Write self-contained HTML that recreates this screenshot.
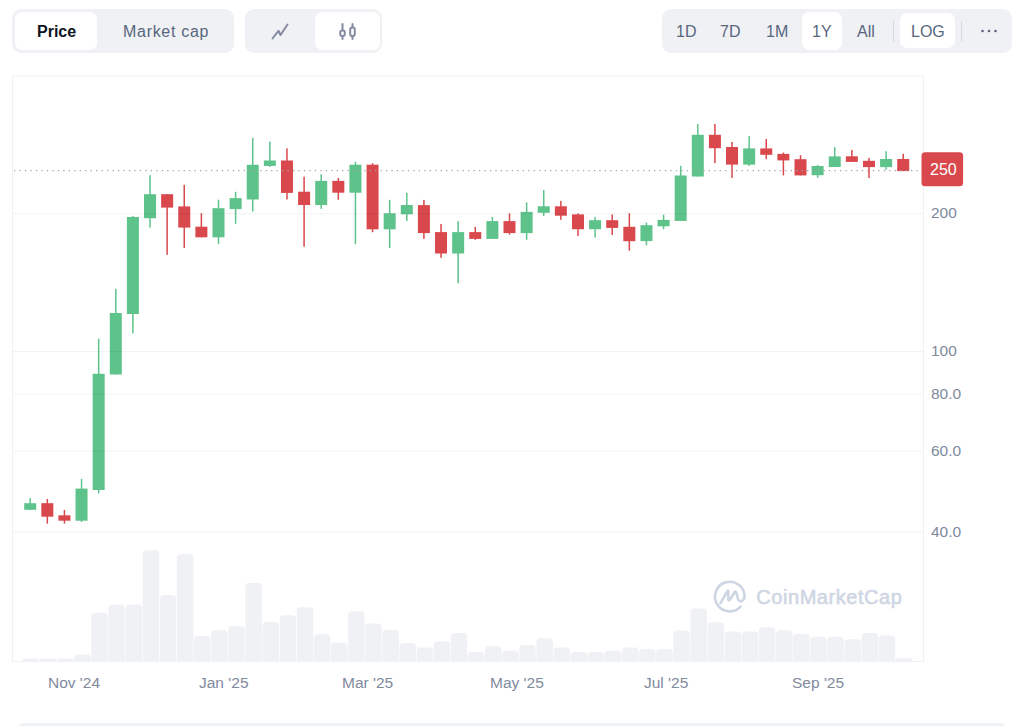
<!DOCTYPE html>
<html><head><meta charset="utf-8">
<style>
html,body{margin:0;padding:0;}
body{width:1024px;height:726px;overflow:hidden;background:#fff;position:relative;font-family:"Liberation Sans",sans-serif;}
.grp{position:absolute;top:9px;height:44px;background:#eff1f4;border-radius:9px;}
.btn{position:absolute;top:3px;height:38px;background:#fff;border-radius:7px;}
.t{position:absolute;font-size:16px;line-height:16px;color:#58667e;white-space:nowrap;}
.yl{position:absolute;left:931px;font-size:15.5px;line-height:15px;color:#808a9d;white-space:nowrap;}
.xl{position:absolute;top:675px;font-size:15.5px;line-height:15px;color:#808a9d;white-space:nowrap;}
.sep{position:absolute;top:21px;width:1px;height:21px;background:#d3d8e1;}
svg{position:absolute;left:0;top:0;}
</style></head><body>
<div class="grp" style="left:12px;width:222px;">
  <div class="btn" style="left:3px;width:82px;"></div>
</div>
<div class="t" style="left:37px;top:23.5px;color:#0d1421;font-weight:bold;">Price</div>
<div class="t" style="left:123px;top:23.5px;letter-spacing:0.7px;">Market cap</div>

<div class="grp" style="left:245px;width:137px;">
  <div class="btn" style="left:70px;width:65px;"></div>
</div>

<div class="grp" style="left:662px;width:350px;">
  <div class="btn" style="left:139.5px;width:40.5px;"></div>
  <div class="btn" style="left:238px;top:4px;height:35px;width:55px;"></div>
</div>
<div class="sep" style="left:893px;"></div>
<div class="sep" style="left:961px;"></div>
<div class="t" style="left:676px;top:23.5px;">1D</div>
<div class="t" style="left:720px;top:23.5px;">7D</div>
<div class="t" style="left:766px;top:23.5px;">1M</div>
<div class="t" style="left:812px;top:23.5px;">1Y</div>
<div class="t" style="left:857px;top:23.5px;">All</div>
<div class="t" style="left:911px;top:23.5px;">LOG</div>

<svg width="1024" height="726" viewBox="0 0 1024 726">
<!-- line icon -->
<path d="M272.5 38.5L278.5 30.8L280.5 35L287.5 24.5" fill="none" stroke="#858ca2" stroke-width="2" stroke-linecap="round" stroke-linejoin="round"/>
<!-- candle icon -->
<path d="M342.5 24v15M352.5 24v15" stroke="#858ca2" stroke-width="2" stroke-linecap="round"/>
<rect x="340.2" y="30.5" width="4.6" height="5.6" rx="2" fill="#fff" stroke="#858ca2" stroke-width="2"/>
<rect x="350.2" y="27.5" width="4.6" height="8.6" rx="2" fill="#fff" stroke="#858ca2" stroke-width="2"/>
<!-- more dots -->
<circle cx="982.5" cy="31" r="1.3" fill="#58667e"/><circle cx="989" cy="31" r="1.3" fill="#58667e"/><circle cx="995.5" cy="31" r="1.3" fill="#58667e"/>
<!-- chart frame -->
<rect x="12.5" y="76" width="911" height="585.5" fill="#fff" stroke="#eff2f5" stroke-width="1"/>
<path d="M22.85 661.5V660.05Q22.85 658.6 24.3 658.6H37.9Q39.35 658.6 39.35 660.05V661.5Z" fill="#eff1f4"/>
<path d="M39.97 661.5V660.05Q39.97 658.6 41.42 658.6H55.02Q56.47 658.6 56.47 660.05V661.5Z" fill="#eff1f4"/>
<path d="M57.09 661.5V660.05Q57.09 658.6 58.54 658.6H72.14Q73.59 658.6 73.59 660.05V661.5Z" fill="#eff1f4"/>
<path d="M74.2 661.5V658.05Q74.2 654.6 77.65 654.6H87.25Q90.7 654.6 90.7 658.05V661.5Z" fill="#eff1f4"/>
<path d="M91.32 661.5V616.7Q91.32 612.7 95.32 612.7H103.82Q107.82 612.7 107.82 616.7V661.5Z" fill="#eff1f4"/>
<path d="M108.44 661.5V608.5Q108.44 604.5 112.44 604.5H120.94Q124.94 604.5 124.94 608.5V661.5Z" fill="#eff1f4"/>
<path d="M125.56 661.5V608.5Q125.56 604.5 129.56 604.5H138.06Q142.06 604.5 142.06 608.5V661.5Z" fill="#eff1f4"/>
<path d="M142.68 661.5V554.2Q142.68 550.2 146.68 550.2H155.18Q159.18 550.2 159.18 554.2V661.5Z" fill="#eff1f4"/>
<path d="M159.79 661.5V599.3Q159.79 595.3 163.79 595.3H172.29Q176.29 595.3 176.29 599.3V661.5Z" fill="#eff1f4"/>
<path d="M176.91 661.5V558.3Q176.91 554.3 180.91 554.3H189.41Q193.41 554.3 193.41 558.3V661.5Z" fill="#eff1f4"/>
<path d="M194.03 661.5V639.7Q194.03 635.7 198.03 635.7H206.53Q210.53 635.7 210.53 639.7V661.5Z" fill="#eff1f4"/>
<path d="M211.15 661.5V634.3Q211.15 630.3 215.15 630.3H223.65Q227.65 630.3 227.65 634.3V661.5Z" fill="#eff1f4"/>
<path d="M228.27 661.5V630Q228.27 626 232.27 626H240.77Q244.77 626 244.77 630V661.5Z" fill="#eff1f4"/>
<path d="M245.38 661.5V587Q245.38 583 249.38 583H257.88Q261.88 583 261.88 587V661.5Z" fill="#eff1f4"/>
<path d="M262.5 661.5V626.1Q262.5 622.1 266.5 622.1H275Q279 622.1 279 626.1V661.5Z" fill="#eff1f4"/>
<path d="M279.62 661.5V619.3Q279.62 615.3 283.62 615.3H292.12Q296.12 615.3 296.12 619.3V661.5Z" fill="#eff1f4"/>
<path d="M296.74 661.5V611.3Q296.74 607.3 300.74 607.3H309.24Q313.24 607.3 313.24 611.3V661.5Z" fill="#eff1f4"/>
<path d="M313.86 661.5V638.2Q313.86 634.2 317.86 634.2H326.36Q330.36 634.2 330.36 638.2V661.5Z" fill="#eff1f4"/>
<path d="M330.97 661.5V646.4Q330.97 642.4 334.97 642.4H343.47Q347.47 642.4 347.47 646.4V661.5Z" fill="#eff1f4"/>
<path d="M348.09 661.5V615.2Q348.09 611.2 352.09 611.2H360.59Q364.59 611.2 364.59 615.2V661.5Z" fill="#eff1f4"/>
<path d="M365.21 661.5V627.5Q365.21 623.5 369.21 623.5H377.71Q381.71 623.5 381.71 627.5V661.5Z" fill="#eff1f4"/>
<path d="M382.33 661.5V634Q382.33 630 386.33 630H394.83Q398.83 630 398.83 634V661.5Z" fill="#eff1f4"/>
<path d="M399.45 661.5V647.3Q399.45 643.3 403.45 643.3H411.95Q415.95 643.3 415.95 647.3V661.5Z" fill="#eff1f4"/>
<path d="M416.56 661.5V651.6Q416.56 647.6 420.56 647.6H429.06Q433.06 647.6 433.06 651.6V661.5Z" fill="#eff1f4"/>
<path d="M433.68 661.5V645.2Q433.68 641.2 437.68 641.2H446.18Q450.18 641.2 450.18 645.2V661.5Z" fill="#eff1f4"/>
<path d="M450.8 661.5V637Q450.8 633 454.8 633H463.3Q467.3 633 467.3 637V661.5Z" fill="#eff1f4"/>
<path d="M467.92 661.5V656.1Q467.92 652.1 471.92 652.1H480.42Q484.42 652.1 484.42 656.1V661.5Z" fill="#eff1f4"/>
<path d="M485.04 661.5V650.2Q485.04 646.2 489.04 646.2H497.54Q501.54 646.2 501.54 650.2V661.5Z" fill="#eff1f4"/>
<path d="M502.15 661.5V654.5Q502.15 650.5 506.15 650.5H514.65Q518.65 650.5 518.65 654.5V661.5Z" fill="#eff1f4"/>
<path d="M519.27 661.5V649.1Q519.27 645.1 523.27 645.1H531.77Q535.77 645.1 535.77 649.1V661.5Z" fill="#eff1f4"/>
<path d="M536.39 661.5V642.2Q536.39 638.2 540.39 638.2H548.89Q552.89 638.2 552.89 642.2V661.5Z" fill="#eff1f4"/>
<path d="M553.51 661.5V651.6Q553.51 647.6 557.51 647.6H566.01Q570.01 647.6 570.01 651.6V661.5Z" fill="#eff1f4"/>
<path d="M570.63 661.5V656.1Q570.63 652.1 574.63 652.1H583.13Q587.13 652.1 587.13 656.1V661.5Z" fill="#eff1f4"/>
<path d="M587.74 661.5V656.1Q587.74 652.1 591.74 652.1H600.24Q604.24 652.1 604.24 656.1V661.5Z" fill="#eff1f4"/>
<path d="M604.86 661.5V654.5Q604.86 650.5 608.86 650.5H617.36Q621.36 650.5 621.36 654.5V661.5Z" fill="#eff1f4"/>
<path d="M621.98 661.5V651.6Q621.98 647.6 625.98 647.6H634.48Q638.48 647.6 638.48 651.6V661.5Z" fill="#eff1f4"/>
<path d="M639.1 661.5V653Q639.1 649 643.1 649H651.6Q655.6 649 655.6 653V661.5Z" fill="#eff1f4"/>
<path d="M656.22 661.5V653Q656.22 649 660.22 649H668.72Q672.72 649 672.72 653V661.5Z" fill="#eff1f4"/>
<path d="M673.33 661.5V634.4Q673.33 630.4 677.33 630.4H685.83Q689.83 630.4 689.83 634.4V661.5Z" fill="#eff1f4"/>
<path d="M690.45 661.5V612.6Q690.45 608.6 694.45 608.6H702.95Q706.95 608.6 706.95 612.6V661.5Z" fill="#eff1f4"/>
<path d="M707.57 661.5V626.2Q707.57 622.2 711.57 622.2H720.07Q724.07 622.2 724.07 626.2V661.5Z" fill="#eff1f4"/>
<path d="M724.69 661.5V635.4Q724.69 631.4 728.69 631.4H737.19Q741.19 631.4 741.19 635.4V661.5Z" fill="#eff1f4"/>
<path d="M741.81 661.5V635.4Q741.81 631.4 745.81 631.4H754.31Q758.31 631.4 758.31 635.4V661.5Z" fill="#eff1f4"/>
<path d="M758.92 661.5V631.2Q758.92 627.2 762.92 627.2H771.42Q775.42 627.2 775.42 631.2V661.5Z" fill="#eff1f4"/>
<path d="M776.04 661.5V634.2Q776.04 630.2 780.04 630.2H788.54Q792.54 630.2 792.54 634.2V661.5Z" fill="#eff1f4"/>
<path d="M793.16 661.5V638.1Q793.16 634.1 797.16 634.1H805.66Q809.66 634.1 809.66 638.1V661.5Z" fill="#eff1f4"/>
<path d="M810.28 661.5V640.8Q810.28 636.8 814.28 636.8H822.78Q826.78 636.8 826.78 640.8V661.5Z" fill="#eff1f4"/>
<path d="M827.4 661.5V640.8Q827.4 636.8 831.4 636.8H839.9Q843.9 636.8 843.9 640.8V661.5Z" fill="#eff1f4"/>
<path d="M844.51 661.5V643.3Q844.51 639.3 848.51 639.3H857.01Q861.01 639.3 861.01 643.3V661.5Z" fill="#eff1f4"/>
<path d="M861.63 661.5V636.9Q861.63 632.9 865.63 632.9H874.13Q878.13 632.9 878.13 636.9V661.5Z" fill="#eff1f4"/>
<path d="M878.75 661.5V639.4Q878.75 635.4 882.75 635.4H891.25Q895.25 635.4 895.25 639.4V661.5Z" fill="#eff1f4"/>
<path d="M895.87 661.5V659.9Q895.87 658.3 897.47 658.3H910.77Q912.37 658.3 912.37 659.9V661.5Z" fill="#eff1f4"/>
<g fill="none" stroke="#cfd6e3" stroke-width="2.6" stroke-linecap="round" stroke-linejoin="round">
<path d="M740.6 606.6A14.8 14.8 0 1 1 744.5 597.6"/>
<path d="M720.5 603.2L727.4 591.2Q728.3 589.8 728.3 592V599Q728.6 601.8 730.3 599.3L734.6 592.2Q735.8 590.5 736.4 592.6L737.9 599Q739.5 602.5 742.3 600.6Q744.1 599.3 744 597.6"/>
</g>
<text x="756.3" y="604.2" font-family="Liberation Sans" font-size="20" letter-spacing="0.55" fill="#cfd6e3" stroke="#cfd6e3" stroke-width="0.6">CoinMarketCap</text>
<rect x="29.45" y="498.1" width="1.5" height="11.7" fill="#5ec38a"/>
<rect x="24.2" y="503.2" width="12" height="6.6" fill="#5ec38a"/>
<rect x="46.57" y="499" width="1.5" height="24.6" fill="#d9484c"/>
<rect x="41.32" y="503.2" width="12" height="13.5" fill="#d9484c"/>
<rect x="63.69" y="510" width="1.5" height="13.6" fill="#d9484c"/>
<rect x="58.44" y="515.3" width="12" height="5.4" fill="#d9484c"/>
<rect x="80.8" y="478.9" width="1.5" height="43.1" fill="#5ec38a"/>
<rect x="75.55" y="488.6" width="12" height="32.1" fill="#5ec38a"/>
<rect x="97.92" y="338.7" width="1.5" height="154.8" fill="#5ec38a"/>
<rect x="92.67" y="373.8" width="12" height="116.2" fill="#5ec38a"/>
<rect x="115.04" y="288.8" width="1.5" height="85.7" fill="#5ec38a"/>
<rect x="109.79" y="313" width="12" height="61.5" fill="#5ec38a"/>
<rect x="132.16" y="216" width="1.5" height="117.3" fill="#5ec38a"/>
<rect x="126.91" y="217" width="12" height="97" fill="#5ec38a"/>
<rect x="149.28" y="175.2" width="1.5" height="52.4" fill="#5ec38a"/>
<rect x="144.03" y="194.2" width="12" height="24" fill="#5ec38a"/>
<rect x="166.39" y="194.2" width="1.5" height="60.6" fill="#d9484c"/>
<rect x="161.14" y="194.2" width="12" height="13.4" fill="#d9484c"/>
<rect x="183.51" y="184.8" width="1.5" height="63.1" fill="#d9484c"/>
<rect x="178.26" y="206.4" width="12" height="21.2" fill="#d9484c"/>
<rect x="200.63" y="213.2" width="1.5" height="24.1" fill="#d9484c"/>
<rect x="195.38" y="226.7" width="12" height="10.6" fill="#d9484c"/>
<rect x="217.75" y="199.7" width="1.5" height="44.3" fill="#5ec38a"/>
<rect x="212.5" y="208.2" width="12" height="29.1" fill="#5ec38a"/>
<rect x="234.87" y="191.8" width="1.5" height="32" fill="#5ec38a"/>
<rect x="229.62" y="198.1" width="12" height="11" fill="#5ec38a"/>
<rect x="251.98" y="137.8" width="1.5" height="73.8" fill="#5ec38a"/>
<rect x="246.73" y="164.8" width="12" height="34.7" fill="#5ec38a"/>
<rect x="269.1" y="141.6" width="1.5" height="25.3" fill="#5ec38a"/>
<rect x="263.85" y="160.5" width="12" height="5.4" fill="#5ec38a"/>
<rect x="286.22" y="148.4" width="1.5" height="51.1" fill="#d9484c"/>
<rect x="280.97" y="160.5" width="12" height="32.4" fill="#d9484c"/>
<rect x="303.34" y="176.7" width="1.5" height="70" fill="#d9484c"/>
<rect x="298.09" y="191.7" width="12" height="13.3" fill="#d9484c"/>
<rect x="320.46" y="174.2" width="1.5" height="34.7" fill="#5ec38a"/>
<rect x="315.21" y="180.9" width="12" height="24.1" fill="#5ec38a"/>
<rect x="337.57" y="178" width="1.5" height="21.8" fill="#d9484c"/>
<rect x="332.32" y="180.9" width="12" height="11.8" fill="#d9484c"/>
<rect x="354.69" y="161.8" width="1.5" height="82.4" fill="#5ec38a"/>
<rect x="349.44" y="164.7" width="12" height="28" fill="#5ec38a"/>
<rect x="371.81" y="163.2" width="1.5" height="69" fill="#d9484c"/>
<rect x="366.56" y="164.7" width="12" height="64.6" fill="#d9484c"/>
<rect x="388.93" y="199.8" width="1.5" height="48.2" fill="#5ec38a"/>
<rect x="383.68" y="213.3" width="12" height="16" fill="#5ec38a"/>
<rect x="406.05" y="192.7" width="1.5" height="28.3" fill="#5ec38a"/>
<rect x="400.8" y="205" width="12" height="9.3" fill="#5ec38a"/>
<rect x="423.16" y="199.9" width="1.5" height="39" fill="#d9484c"/>
<rect x="417.91" y="205.1" width="12" height="28" fill="#d9484c"/>
<rect x="440.28" y="224" width="1.5" height="33.8" fill="#d9484c"/>
<rect x="435.03" y="232.1" width="12" height="21.4" fill="#d9484c"/>
<rect x="457.4" y="221.1" width="1.5" height="62.2" fill="#5ec38a"/>
<rect x="452.15" y="232.1" width="12" height="21.4" fill="#5ec38a"/>
<rect x="474.52" y="226.9" width="1.5" height="12.9" fill="#d9484c"/>
<rect x="469.27" y="232.1" width="12" height="6.8" fill="#d9484c"/>
<rect x="491.64" y="216.9" width="1.5" height="22" fill="#5ec38a"/>
<rect x="486.39" y="221.1" width="12" height="17.8" fill="#5ec38a"/>
<rect x="508.75" y="213.4" width="1.5" height="21.2" fill="#d9484c"/>
<rect x="503.5" y="221.1" width="12" height="12" fill="#d9484c"/>
<rect x="525.87" y="202.4" width="1.5" height="37.4" fill="#5ec38a"/>
<rect x="520.62" y="211.9" width="12" height="21.2" fill="#5ec38a"/>
<rect x="542.99" y="189.9" width="1.5" height="26" fill="#5ec38a"/>
<rect x="537.74" y="206.3" width="12" height="6.5" fill="#5ec38a"/>
<rect x="560.11" y="200.9" width="1.5" height="18.9" fill="#d9484c"/>
<rect x="554.86" y="206.3" width="12" height="9.4" fill="#d9484c"/>
<rect x="577.23" y="213.4" width="1.5" height="22.6" fill="#d9484c"/>
<rect x="571.98" y="214.4" width="12" height="14.8" fill="#d9484c"/>
<rect x="594.34" y="216.9" width="1.5" height="20.6" fill="#5ec38a"/>
<rect x="589.09" y="220.2" width="12" height="9" fill="#5ec38a"/>
<rect x="611.46" y="214.4" width="1.5" height="20.6" fill="#d9484c"/>
<rect x="606.21" y="220.2" width="12" height="7.7" fill="#d9484c"/>
<rect x="628.58" y="213.3" width="1.5" height="37.4" fill="#d9484c"/>
<rect x="623.33" y="226.8" width="12" height="14.4" fill="#d9484c"/>
<rect x="645.7" y="222.6" width="1.5" height="22.7" fill="#5ec38a"/>
<rect x="640.45" y="225.2" width="12" height="15.9" fill="#5ec38a"/>
<rect x="662.82" y="214.7" width="1.5" height="14.5" fill="#5ec38a"/>
<rect x="657.57" y="219.9" width="12" height="6.4" fill="#5ec38a"/>
<rect x="679.93" y="165.8" width="1.5" height="55.1" fill="#5ec38a"/>
<rect x="674.68" y="175.5" width="12" height="45.4" fill="#5ec38a"/>
<rect x="697.05" y="124" width="1.5" height="52.5" fill="#5ec38a"/>
<rect x="691.8" y="134.8" width="12" height="41.7" fill="#5ec38a"/>
<rect x="714.17" y="124" width="1.5" height="39.1" fill="#d9484c"/>
<rect x="708.92" y="134.8" width="12" height="13.4" fill="#d9484c"/>
<rect x="731.29" y="142" width="1.5" height="35.9" fill="#d9484c"/>
<rect x="726.04" y="147" width="12" height="17.6" fill="#d9484c"/>
<rect x="748.41" y="136.1" width="1.5" height="29.9" fill="#5ec38a"/>
<rect x="743.16" y="148.4" width="12" height="16.2" fill="#5ec38a"/>
<rect x="765.52" y="139" width="1.5" height="20.2" fill="#d9484c"/>
<rect x="760.27" y="148.4" width="12" height="6.4" fill="#d9484c"/>
<rect x="782.64" y="152.5" width="1.5" height="22.9" fill="#d9484c"/>
<rect x="777.39" y="153.9" width="12" height="6.5" fill="#d9484c"/>
<rect x="799.76" y="155.2" width="1.5" height="20.2" fill="#d9484c"/>
<rect x="794.51" y="159.2" width="12" height="16.2" fill="#d9484c"/>
<rect x="816.88" y="164.9" width="1.5" height="12.9" fill="#5ec38a"/>
<rect x="811.63" y="166" width="12" height="9.2" fill="#5ec38a"/>
<rect x="834" y="147.1" width="1.5" height="19.9" fill="#5ec38a"/>
<rect x="828.75" y="156.4" width="12" height="10.6" fill="#5ec38a"/>
<rect x="851.11" y="149.9" width="1.5" height="12" fill="#d9484c"/>
<rect x="845.86" y="156.3" width="12" height="5.6" fill="#d9484c"/>
<rect x="868.23" y="157.9" width="1.5" height="20.1" fill="#d9484c"/>
<rect x="862.98" y="160.8" width="12" height="6.3" fill="#d9484c"/>
<rect x="885.35" y="151.2" width="1.5" height="18.5" fill="#5ec38a"/>
<rect x="880.1" y="159" width="12" height="8.1" fill="#5ec38a"/>
<rect x="902.47" y="153.8" width="1.5" height="17.3" fill="#d9484c"/>
<rect x="897.22" y="159" width="12" height="12.1" fill="#d9484c"/>
<rect x="13" y="213.2" width="910" height="1" fill="rgba(20,50,110,0.06)"/>
<rect x="13" y="351" width="910" height="1" fill="rgba(20,50,110,0.06)"/>
<rect x="13" y="393.7" width="910" height="1" fill="rgba(20,50,110,0.06)"/>
<rect x="13" y="450.7" width="910" height="1" fill="rgba(20,50,110,0.06)"/>
<rect x="13" y="531.6" width="910" height="1" fill="rgba(20,50,110,0.06)"/>
<line x1="14" y1="170.6" x2="922" y2="170.6" stroke="#a0a5ad" stroke-width="1.3" stroke-dasharray="1.3 4.17"/>
<!-- price label -->
<rect x="921.5" y="152.2" width="41.6" height="34" rx="3.5" fill="#d9484c"/>
</svg>
<div class="yl" style="left:930px;top:162px;font-size:16px;color:#fff;">250</div>
<div class="yl" style="top:205px;">200</div>
<div class="yl" style="top:343px;">100</div>
<div class="yl" style="top:386px;">80.0</div>
<div class="yl" style="top:443px;">60.0</div>
<div class="yl" style="top:524px;">40.0</div>

<div class="xl" style="left:48px;">Nov '24</div>
<div class="xl" style="left:199px;">Jan '25</div>
<div class="xl" style="left:342px;">Mar '25</div>
<div class="xl" style="left:490px;">May '25</div>
<div class="xl" style="left:644px;">Jul '25</div>
<div class="xl" style="left:792px;">Sep '25</div>

<div style="position:absolute;left:16px;top:723px;width:991px;height:20px;background:#eff2f5;border-radius:8px;"></div>
</body></html>
